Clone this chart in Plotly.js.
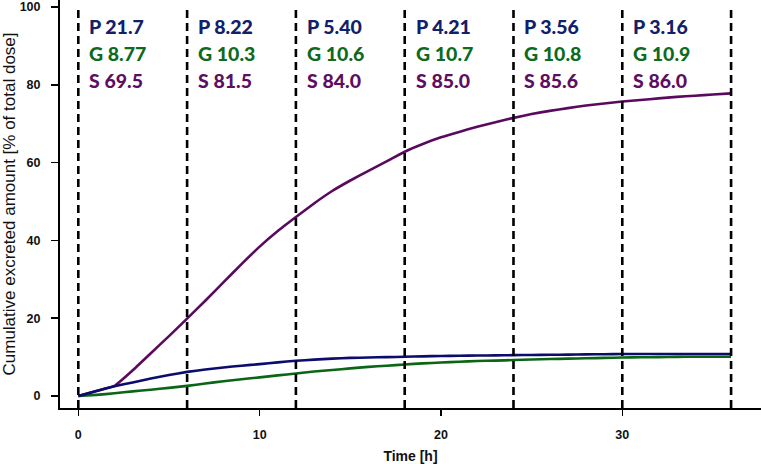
<!DOCTYPE html>
<html>
<head>
<meta charset="utf-8">
<script src="https://cdn.plot.ly/plotly-3.0.1.min.js"></script>
<style>html,body{margin:0;padding:0;background:#fff;}#chart{width:761px;height:464px;}</style>
</head>
<body>
<div id="chart"></div>
<script>
// Time points [h]
var timeH = [0,1,2,3,4,5,6,7,8,9,10,11,12,13,14,15,16,17,18,19,20,21,22,23,24,25,26,27,28,29,30,31,32,33,34,35,36];
// Cumulative excreted amount [% of dose]
var seriesS = [0,1.3,2.6,6.6,11.0,15.4,19.9,24.5,29.2,33.9,38.4,42.4,46.0,49.5,52.7,55.4,57.9,60.3,62.8,64.8,66.5,67.9,69.2,70.4,71.5,72.5,73.3,74.0,74.7,75.2,75.7,76.1,76.5,76.9,77.2,77.5,77.8];
var seriesP = [0,1.3,2.5,3.5,4.5,5.4,6.2,6.8,7.35,7.8,8.2,8.65,9.05,9.35,9.6,9.8,9.9,10.0,10.1,10.2,10.3,10.35,10.4,10.45,10.5,10.55,10.6,10.65,10.7,10.75,10.8,10.8,10.8,10.8,10.8,10.8,10.8];
var seriesG = [0,0.3,0.7,1.2,1.6,2.1,2.6,3.2,3.8,4.3,4.8,5.3,5.8,6.3,6.7,7.1,7.5,7.8,8.1,8.4,8.6,8.8,9.0,9.1,9.25,9.4,9.5,9.6,9.7,9.8,9.9,9.95,10.0,10.05,10.1,10.1,10.1];
// Sampling interval boundaries and labels
var intervalLines = [0,6,12,18,24,30,36];
var intervalStarts = [0,6,12,18,24,30];
var pLabels = ["21.7","8.22","5.40","4.21","3.56","3.16"];
var gLabels = ["8.77","10.3","10.6","10.7","10.8","10.9"];
var sLabels = ["69.5","81.5","84.0","85.0","85.6","86.0"];
var yTicks = [0,20,40,60,80,100];
var xTicks = [0,10,20,30];

var colS = '#5a0a5e', colP = '#0c0c6c', colG = '#0a6614';
var txtP = '#10206a', txtG = '#0e6a1e', txtS = '#5e0e62';

var yMin = -3.08, yMax = 101.8;
var traces = [
  {x: timeH, y: seriesG, mode: 'lines', line: {color: colG, width: 2.6, shape: 'spline', smoothing: 0.35}, hoverinfo: 'none'},
  {x: timeH, y: seriesS, mode: 'lines', line: {color: colS, width: 2.6, shape: 'spline', smoothing: 0.35}, hoverinfo: 'none'},
  {x: timeH, y: seriesP, mode: 'lines', line: {color: colP, width: 2.6, shape: 'spline', smoothing: 0.35}, hoverinfo: 'none'}
];
intervalLines.forEach(function(t){
  traces.push({x: [t,t], y: [yMin, 99.2], mode: 'lines', line: {color: '#000', width: 2.6, dash: '8px,5px'}, hoverinfo: 'none'});
});

var annotations = [];
var rows = [
  {pre: 'P ', labels: pLabels, y: 94.9, color: txtP},
  {pre: 'G ', labels: gLabels, y: 88.0, color: txtG},
  {pre: 'S ', labels: sLabels, y: 81.0, color: txtS}
];
rows.forEach(function(r){
  intervalStarts.forEach(function(t,i){
    annotations.push({x: t, y: r.y, xref: 'x', yref: 'y', text: r.pre + r.labels[i], showarrow: false,
      xanchor: 'left', yanchor: 'middle', xshift: 9,
      font: {family: 'Lato, "Open Sans", sans-serif', size: 19.5, color: r.color, weight: 900}});
  });
});

var layout = {
  width: 761, height: 464,
  margin: {l: 60, r: 0, t: 0, b: 56},
  paper_bgcolor: '#fff', plot_bgcolor: '#fff',
  showlegend: false,
  xaxis: {range: [-1.01, 37.65], tickvals: xTicks, ticktext: xTicks.map(String), showgrid: false, zeroline: false,
    showline: true, linecolor: '#000', linewidth: 2, ticks: 'outside', ticklen: 6, tickwidth: 1.5, tickcolor: '#000',
    ticklabelstandoff: 8,
    tickfont: {family: '"Liberation Sans", Arial, sans-serif', size: 12.5, color: '#111', weight: 'bold'},
    title: {text: 'Time [h]', standoff: 10, font: {family: '"Liberation Sans", Arial, sans-serif', size: 14, color: '#111', weight: 'bold'}}},
  yaxis: {range: [yMin, yMax], tickvals: yTicks, ticktext: yTicks.map(String), showgrid: false, zeroline: false,
    showline: true, linecolor: '#000', linewidth: 2, ticks: 'outside', ticklen: 7, tickwidth: 1.5, tickcolor: '#000',
    ticklabelstandoff: 8,
    tickfont: {family: '"Liberation Sans", Arial, sans-serif', size: 12.5, color: '#111', weight: 'bold'},
    title: {text: 'Cumulative excreted amount [% of total dose]', standoff: 8, font: {family: '"Liberation Sans", Arial, sans-serif', size: 17, color: '#111'}}},
  annotations: annotations
};
Plotly.newPlot('chart', traces, layout, {staticPlot: true, displayModeBar: false});
</script>
</body>
</html>
